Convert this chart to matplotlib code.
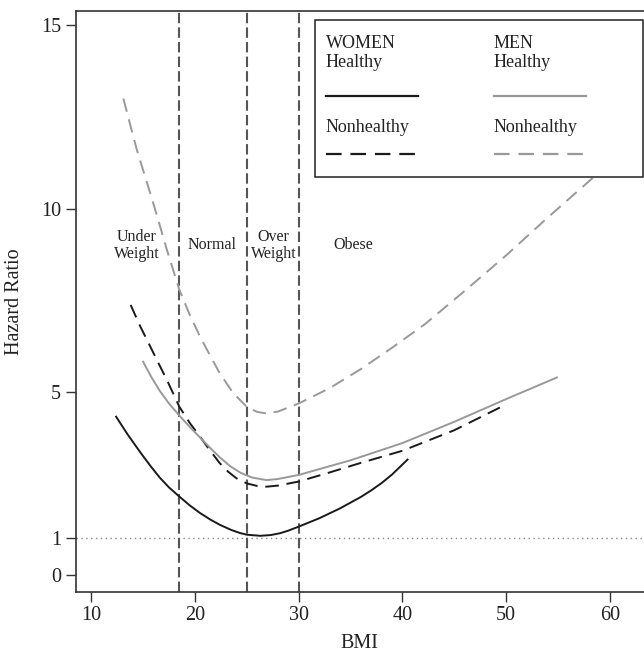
import numpy as np
import matplotlib.pyplot as plt
from matplotlib.patches import Rectangle
from matplotlib.lines import Line2D

plt.rcParams['font.family'] = ['Liberation Serif', 'DejaVu Serif']

# hazard ratio curves (BMI, HR)
women_h_bmi = [12.4, 13.5, 14.7, 15.7, 16.6, 17.5, 18.5, 19.5, 20.5, 21.5, 22.4, 23.5, 24.3, 25,
               26.3, 27.3, 28.2, 29, 30, 32, 34, 36, 37, 38, 39, 40.5]
women_h_hr = [4.32, 3.84, 3.36, 2.98, 2.66, 2.39, 2.14, 1.9, 1.69, 1.51, 1.37, 1.23, 1.15, 1.1,
              1.07, 1.09, 1.14, 1.21, 1.32, 1.55, 1.82, 2.13, 2.31, 2.51, 2.74, 3.15]

women_nh_bmi = [13.8, 14.7, 15.7, 16.5, 17.3, 18.5, 19.5, 20.5, 21.5, 22.4, 23.2, 24, 25, 26, 26.9,
                28, 30, 33, 36, 40, 45, 49.4]
women_nh_hr = [7.37, 6.8, 6.23, 5.77, 5.32, 4.59, 4.15, 3.77, 3.38, 3.05, 2.82, 2.64, 2.5, 2.43, 2.41,
               2.44, 2.55, 2.8, 3.06, 3.39, 3.95, 4.57]

men_h_bmi = [15, 15.8, 16.6, 17.5, 18.5, 19.5, 20.5, 21.5, 22.4, 23.4, 24.4, 25.5, 26.9, 28, 30,
             35, 40, 45, 50, 54.9]
men_h_hr = [5.82, 5.4, 5.03, 4.68, 4.35, 4.04, 3.75, 3.46, 3.21, 2.97, 2.79, 2.66, 2.59, 2.62, 2.73,
            3.13, 3.6, 4.18, 4.8, 5.39]

men_nh_bmi = [13.1, 13.7, 14.4, 15.7, 16.5, 17.3, 18.5, 19.5, 20.5, 21.5, 22.4, 23.7, 25, 26, 26.9,
              28, 30, 33, 36, 39, 42.2, 46, 50, 54, 58.3, 61]
men_nh_hr = [13.0, 12.35, 11.6, 10.41, 9.65, 8.87, 7.78, 7.1, 6.5, 5.97, 5.5, 4.96, 4.59, 4.45, 4.41,
             4.46, 4.68, 5.1, 5.62, 6.2, 6.85, 7.75, 8.72, 9.75, 10.82, 11.5]

cutoffs = [18.5, 25, 30]
regions = ["Under\nWeight", "Normal", "Over\nWeight", "Obese"]
region_x = [14.4, 21.7, 27.6, 35.3]

black = "#1a1a1a"
grey = "#999999"

fig = plt.figure(figsize=(6.44, 6.55), dpi=100)
ax = fig.add_axes([0.1175, 0.0966, 0.8825, 0.8866])

ax.axhline(1, color="#888888", lw=1, linestyle=(0, (1, 2.5)), zorder=1)
for c in cutoffs:
    ax.axvline(c, color="#555555", lw=1.5, linestyle=(0, (5, 2)), zorder=2)

ax.plot(women_h_bmi, women_h_hr, color=black, lw=1.4, zorder=3)
ax.plot(women_nh_bmi, women_nh_hr, color=black, lw=1.4, linestyle=(0, (7, 4)), zorder=3)
ax.plot(men_h_bmi, men_h_hr, color=grey, lw=1.4, zorder=3)
ax.plot(men_nh_bmi, men_nh_hr, color=grey, lw=1.4, linestyle=(0, (7, 4)), zorder=3)

for lab, xx in zip(regions, region_x):
    ax.text(xx, 9.0, lab, ha="center", va="center", fontsize=11.5, linespacing=1.1, color="#222222")

ax.set_xlim(8.5, 63.3)
ax.set_ylim(-0.456, 15.39)
ax.set_xticks([10, 20, 30, 40, 50, 60])
ax.set_yticks([0, 1, 5, 10, 15])
ax.tick_params(labelsize=14.5, length=7, width=1, color="#333333", labelcolor="#222222")
ax.spines["right"].set_visible(False)
for s in ["left", "bottom", "top"]:
    ax.spines[s].set_color("#333333")
    ax.spines[s].set_linewidth(1.2)
ax.set_xlabel("BMI", fontsize=14.5, color="#222222", labelpad=6)
ax.set_ylabel("Hazard Ratio", fontsize=14.5, color="#222222", labelpad=12)

# legend box drawn by hand (figure pixel coords -> fraction)
W, H = 644, 655
def fx(px):
    return px / W
def fy(py):
    return 1 - py / H

fig.patches.append(Rectangle((fx(315), fy(177)), fx(643) - fx(315), fy(20) - fy(177),
                             transform=fig.transFigure, facecolor="white",
                             edgecolor="#222222", lw=1.1, zorder=5))
leg_text = 13
for col_x, head, col in [(326, "WOMEN", black), (494, "MEN", grey)]:
    fig.text(fx(col_x), fy(35), head + "\nHealthy", ha="left", va="top",
             fontsize=leg_text, linespacing=1.15, color="#222222", zorder=6)
    fig.text(fx(col_x), fy(119), "Nonhealthy", ha="left", va="top",
             fontsize=leg_text, color="#222222", zorder=6)
    fig.lines.append(Line2D([fx(col_x), fx(col_x + 92)], [fy(95.5), fy(95.5)],
                            transform=fig.transFigure, color=col, lw=1.6, zorder=6))
    fig.lines.append(Line2D([fx(col_x), fx(col_x + 92)], [fy(154), fy(154)],
                            transform=fig.transFigure, color=col, lw=1.6,
                            linestyle=(0, (7, 4)), zorder=6))

fig.savefig("out.png", dpi=100)
